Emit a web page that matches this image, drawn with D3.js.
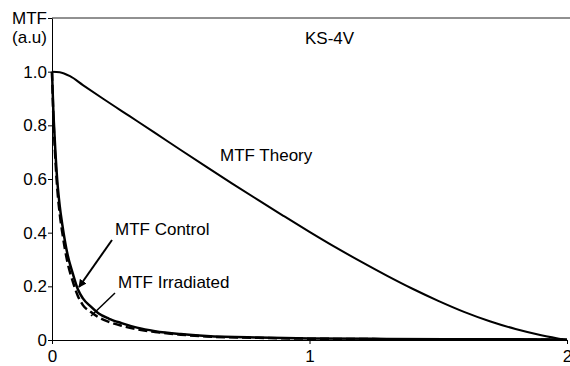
<!DOCTYPE html>
<html>
<head>
<meta charset="utf-8">
<script src="https://cdn.jsdelivr.net/npm/d3@7"></script>
<style>
	body { margin: 0; background: #fff; }
	svg { display: block; font-family: "Liberation Sans", Arial, sans-serif; }
	.axis text { font-size: 17px; fill: #000; }
	.label { font-size: 17px; fill: #000; }
</style>
</head>
<body>
<svg id="chart" width="570" height="366"></svg>
<script>
// spatial frequency
const theoryFreq = [0, 0.03, 0.07, 0.12, 0.2, 0.3, 0.4, 0.5, 0.6, 0.7, 0.8, 0.9, 1.0, 1.1, 1.2, 1.3, 1.4, 1.5, 1.6, 1.7, 1.8, 1.9, 2.0];
const theoryMtf  = [1.0, 0.998, 0.983, 0.95, 0.898, 0.835, 0.772, 0.708, 0.645, 0.583, 0.522, 0.462, 0.403, 0.346, 0.292, 0.24, 0.191, 0.146, 0.105, 0.07, 0.041, 0.018, 0];

const measFreq   = [0, 0.005, 0.01, 0.02, 0.03, 0.04, 0.05, 0.06, 0.08, 0.10, 0.12, 0.15, 0.18, 0.22, 0.27, 0.33, 0.40, 0.50, 0.60, 0.80, 1.0, 1.3, 1.6, 2.0];
const controlMtf = [1.0, 0.86, 0.76, 0.60, 0.50, 0.43, 0.37, 0.32, 0.25, 0.19, 0.155, 0.125, 0.10, 0.08, 0.063, 0.046, 0.033, 0.022, 0.015, 0.009, 0.006, 0.004, 0.003, 0.002];
const irradMtf   = [1.0, 0.84, 0.73, 0.57, 0.47, 0.40, 0.34, 0.29, 0.22, 0.165, 0.13, 0.105, 0.085, 0.068, 0.053, 0.04, 0.03, 0.02, 0.013, 0.008, 0.005, 0.003, 0.002, 0.001];

const xTicks = [0, 1, 2];
const yTicks = [0, 0.2, 0.4, 0.6, 0.8, 1.0, 1.2];

const svg = d3.select('#chart');

const x = d3.scaleLinear().domain([0, 2]).range([52, 567]);
const y = d3.scaleLinear().domain([0, 1.2]).range([340, 18]);

// top frame line
svg.append('line')
	.attr('x1', 52).attr('x2', 570)
	.attr('y1', y(1.2)).attr('y2', y(1.2))
	.attr('stroke', '#222').attr('stroke-width', 1);

const yAxis = d3.axisLeft(y)
	.tickValues(yTicks)
	.tickSize(4).tickSizeOuter(0).tickPadding(1)
	.tickFormat(function(d) {
		if (d === 0) return '0';
		if (d > 1.1) return 'MTF';
		return d3.format('.1f')(d);
	});
svg.append('g').attr('class', 'axis')
	.attr('transform', 'translate(' + x(0) + ',0)')
	.call(yAxis);

const xAxis = d3.axisBottom(x)
	.tickValues(xTicks)
	.tickSize(4).tickSizeOuter(0).tickPadding(6)
	.tickFormat(d3.format('d'));
svg.append('g').attr('class', 'axis')
	.attr('transform', 'translate(0,' + y(0) + ')')
	.call(xAxis);

svg.selectAll('.axis path, .axis line').attr('stroke', '#000');

svg.append('text').attr('class', 'label')
	.attr('x', 47).attr('y', 43)
	.attr('text-anchor', 'end')
	.text('(a.u)');

const line = d3.line()
	.x(function(d) { return x(d[0]); })
	.y(function(d) { return y(d[1]); })
	.curve(d3.curveMonotoneX);

svg.append('path')
	.datum(d3.zip(theoryFreq, theoryMtf))
	.attr('fill', 'none').attr('stroke', '#000').attr('stroke-width', 2)
	.attr('d', line);

svg.append('path')
	.datum(d3.zip(measFreq, irradMtf))
	.attr('fill', 'none').attr('stroke', '#000').attr('stroke-width', 2.5)
	.attr('stroke-dasharray', '9,4')
	.attr('d', line);

svg.append('path')
	.datum(d3.zip(measFreq, controlMtf))
	.attr('fill', 'none').attr('stroke', '#000').attr('stroke-width', 2.5)
	.attr('d', line);

// labels
svg.append('text').attr('class', 'label').attr('x', 305).attr('y', 44).text('KS-4V');
svg.append('text').attr('class', 'label').attr('x', 220).attr('y', 161).text('MTF Theory');
svg.append('text').attr('class', 'label').attr('x', 115).attr('y', 235).text('MTF Control');
svg.append('text').attr('class', 'label').attr('x', 118).attr('y', 288).text('MTF Irradiated');

// arrows
svg.append('defs').append('marker')
	.attr('id', 'arrow')
	.attr('viewBox', '0 0 10 10')
	.attr('refX', 9).attr('refY', 5)
	.attr('markerWidth', 4).attr('markerHeight', 4)
	.attr('orient', 'auto')
	.append('path').attr('d', 'M0,0 L10,5 L0,10 z').attr('fill', '#000');

svg.append('line')
	.attr('x1', 112).attr('y1', 240).attr('x2', 79).attr('y2', 287)
	.attr('stroke', '#000').attr('stroke-width', 2)
	.attr('marker-end', 'url(#arrow)');

svg.append('line')
	.attr('x1', 115).attr('y1', 293).attr('x2', 91).attr('y2', 316)
	.attr('stroke', '#000').attr('stroke-width', 1.5);
</script>
</body>
</html>
